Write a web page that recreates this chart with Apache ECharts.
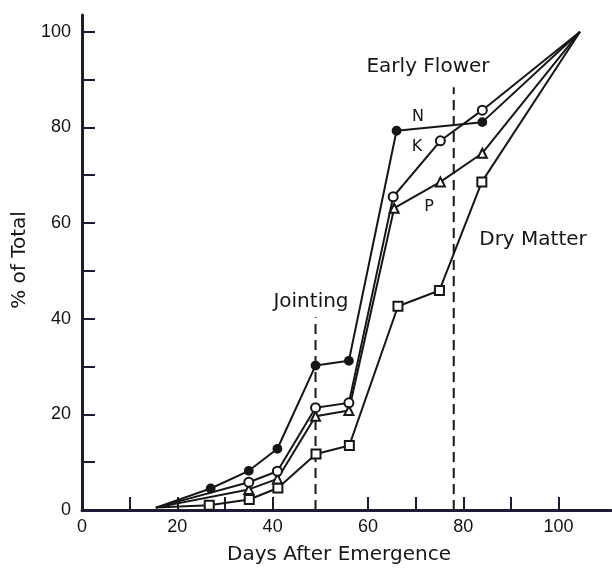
<!DOCTYPE html>
<html>
<head>
<meta charset="utf-8">
<script src="https://cdn.jsdelivr.net/npm/echarts@6/dist/echarts.min.js"></script>
<style>html,body{margin:0;padding:0;background:#fff}#c{width:612px;height:568px}</style>
</head>
<body>
<div id="c"></div>
<script>
// Data
const daysN  = [15.5, 27, 35, 41, 49, 56, 66, 84, 104.5];
const pctN   = [0.5, 4.5, 8.2, 12.8, 30.2, 31.2, 79.3, 81.1, 100];
const daysK  = [15.5, 35, 41, 49, 56, 65.3, 75.2, 84, 104.5];
const pctK   = [0.5, 5.8, 8.1, 21.4, 22.4, 65.5, 77.2, 83.6, 100];
const daysP  = [15.5, 35, 41, 49, 56, 65.5, 75.2, 84, 104.5];
const pctP   = [0.5, 4.3, 6.5, 19.6, 20.8, 63.1, 68.6, 74.6, 100];
const daysDM = [15.5, 26.7, 35.1, 41.1, 49.1, 56.1, 66.3, 75, 83.9, 104.5];
const pctDM  = [0.5, 1.0, 2.2, 4.6, 11.7, 13.5, 42.6, 45.9, 68.6, 100];
const stageNames = ['Jointing', 'Early Flower'];
const stageDays  = [49, 78];
const stageTops  = [40.3, 88.4];
const xTickValues  = [10, 20, 30, 40, 60, 70, 80, 90, 100];
const xLabelValues = [0, 20, 40, 60, 80, 100];
const yTickValues  = [10, 20, 30, 40, 50, 60, 70, 80, 90, 100];
const yLabelValues = [0, 20, 40, 60, 80, 100];

const INK = '#161616';
const AXIS = '#1b1b33';

function pairs(xs, ys) { return xs.map((x, i) => [x, ys[i]]); }
function mkSeries(name, xs, ys, sym, size) {
  const n = xs.length;
  return {
    name, type: 'line', data: pairs(xs, ys),
    symbol: (v, p) => (p.dataIndex === 0 || p.dataIndex === n - 1) ? 'none' : sym,
    symbolSize: size,
    lineStyle: { color: INK, width: 2 },
    itemStyle: { color: INK, borderColor: INK, borderWidth: 1.8 },
    emphasis: { disabled: true },
    z: 3
  };
}

const series = [
  mkSeries('DM', daysDM, pctDM, 'emptyRect', 9),
  mkSeries('P', daysP, pctP, 'emptyTriangle', 9),
  mkSeries('K', daysK, pctK, 'emptyCircle', 9),
  mkSeries('N', daysN, pctN, 'circle', 8)
];
stageDays.forEach((d, i) => {
  series.push({
    name: stageNames[i], type: 'line', data: [[d, 0], [d, stageTops[i]]],
    symbol: 'none', lineStyle: { color: INK, width: 2, type: [10, 6] }, z: 2,
    emphasis: { disabled: true }
  });
});

const chart = echarts.init(document.getElementById('c'));
chart.setOption({
  animation: false,
  backgroundColor: '#fff',
  grid: { left: 82, right: 1, top: 15, bottom: 58 },
  xAxis: {
    type: 'value', min: 0, max: 111,
    axisLine: { show: true, onZero: false, lineStyle: { color: AXIS, width: 3 } },
    axisTick: { show: true, inside: true, length: 13, customValues: xTickValues, lineStyle: { color: AXIS, width: 2 } },
    axisLabel: { customValues: xLabelValues, margin: 8, color: '#111', fontFamily: 'Liberation Sans', fontSize: 18 },
    splitLine: { show: false }
  },
  yAxis: {
    type: 'value', min: 0, max: 103.5,
    axisLine: { show: true, onZero: false, lineStyle: { color: AXIS, width: 3 } },
    axisTick: { show: true, inside: true, length: 13, customValues: yTickValues, lineStyle: { color: AXIS, width: 2 } },
    axisLabel: { customValues: yLabelValues, margin: 11, color: '#111', fontFamily: 'Liberation Sans', fontSize: 18 },
    splitLine: { show: false }
  },
  series,
  graphic: [
    { type: 'text', x: 311, y: 302, style: { text: 'Jointing', font: '20px "DejaVu Sans"', fill: INK, textAlign: 'center', textVerticalAlign: 'middle' } },
    { type: 'text', x: 428, y: 67, style: { text: 'Early Flower', font: '20px "DejaVu Sans"', fill: INK, textAlign: 'center', textVerticalAlign: 'middle' } },
    { type: 'text', x: 418, y: 117, style: { text: 'N', font: '16px "DejaVu Sans"', fill: INK, textAlign: 'center', textVerticalAlign: 'middle' } },
    { type: 'text', x: 417, y: 147, style: { text: 'K', font: '16px "DejaVu Sans"', fill: INK, textAlign: 'center', textVerticalAlign: 'middle' } },
    { type: 'text', x: 429, y: 207, style: { text: 'P', font: '16px "DejaVu Sans"', fill: INK, textAlign: 'center', textVerticalAlign: 'middle' } },
    { type: 'text', x: 533, y: 240, style: { text: 'Dry Matter', font: '20px "DejaVu Sans"', fill: INK, textAlign: 'center', textVerticalAlign: 'middle' } },
    { type: 'text', x: 339, y: 555, style: { text: 'Days After Emergence', font: '20px "DejaVu Sans"', fill: INK, textAlign: 'center', textVerticalAlign: 'middle' } },
    { type: 'text', x: 20, y: 260, rotation: Math.PI / 2, style: { text: '% of Total', font: '20px "DejaVu Sans"', fill: INK, textAlign: 'center', textVerticalAlign: 'middle' } }
  ]
});
</script>
</body>
</html>
